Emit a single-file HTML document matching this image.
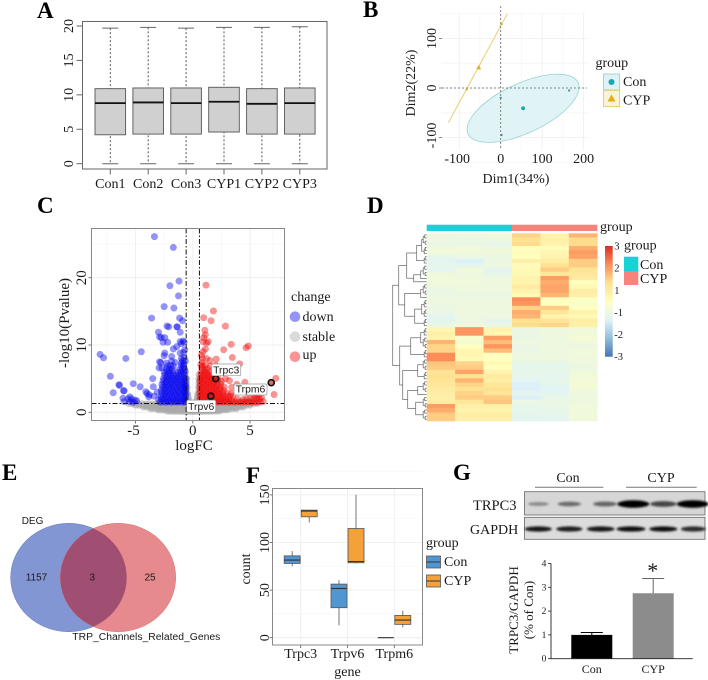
<!DOCTYPE html>
<html lang="en">
<head>
<meta charset="utf-8">
<title>Multi-panel transcriptomics figure</title>
<style>
html,body{margin:0;padding:0;background:#fff;width:708px;height:680px;overflow:hidden}
svg{display:block;filter:blur(.3px)}
text{font-family:"Liberation Serif",serif;fill:#1a1a1a}
.sans{font-family:"Liberation Sans",sans-serif}
.letter{font-weight:bold;font-size:23px;fill:#000}
</style>
</head>
<body>
<svg id="fig" xmlns="http://www.w3.org/2000/svg" width="708" height="680" viewBox="0 0 708 680">
<defs>
<filter id="blur" x="-30%" y="-100%" width="160%" height="300%"><feGaussianBlur stdDeviation="1"/></filter>
<linearGradient id="heatGrad" x1="0" y1="0" x2="0" y2="1">
<stop offset="0" stop-color="#d73027"/><stop offset="0.167" stop-color="#fc8d59"/><stop offset="0.333" stop-color="#fee090"/><stop offset="0.5" stop-color="#ffffbf"/><stop offset="0.667" stop-color="#e0f3f8"/><stop offset="0.833" stop-color="#91bfdb"/><stop offset="1" stop-color="#4575b4"/>
</linearGradient>
<clipPath id="redClip"><ellipse cx="118" cy="577.5" rx="57.7" ry="54.2"/></clipPath>
</defs>

<text class="letter" x="37" y="18">A</text>
<text class="letter" x="363" y="17">B</text>
<text class="letter" x="37" y="213">C</text>
<text class="letter" x="367" y="213">D</text>
<text class="letter" x="2" y="480">E</text>
<text class="letter" x="246" y="483">F</text>
<text class="letter" x="453" y="480">G</text>

<g id="panelA"></g>

<g id="panelB">
<text x="516" y="183" font-size="14" text-anchor="middle">Dim1(34%)</text>
<text x="0" y="0" transform="translate(415 83) rotate(-90)" font-size="14" text-anchor="middle">Dim2(22%)</text>
<text x="595.5" y="67" font-size="14">group</text>
<rect x="603.5" y="74" width="16" height="16" fill="#dff3f4" stroke="#9fd6da"/>
<circle cx="611.5" cy="82" r="3" fill="#1aa8b4"/>
<rect x="603.5" y="90.5" width="16" height="16" fill="#fbf3d6" stroke="#e8cf7c"/>
<path d="M611.5 94.5l4 7h-8z" fill="#e0ad14"/>
<text x="623" y="86" font-size="14">Con</text>
<text x="623" y="104.5" font-size="14">CYP</text>
</g>

<g id="panelC"></g>
<g id="panelCText">
<text x="194" y="450" font-size="15" text-anchor="middle">logFC</text>
<text x="0" y="0" transform="translate(69 323) rotate(-90)" font-size="15" text-anchor="middle">-log10(Pvalue)</text>
<text x="291" y="301" font-size="14">change</text>
<circle cx="295" cy="316.7" r="5.3" fill="#0000ee" fill-opacity=".42"/>
<circle cx="295" cy="336.7" r="5.3" fill="#a8a8a8" fill-opacity=".42"/>
<circle cx="295" cy="356.7" r="5.3" fill="#ee0000" fill-opacity=".42"/>
<text x="302.5" y="321" font-size="14">down</text>
<text x="302.5" y="341" font-size="14">stable</text>
<text x="302.5" y="359" font-size="14">up</text>
</g>

<g id="panelD">
<rect x="426.7" y="224.7" width="85.3" height="6.3" fill="#1bd0d8"/>
<rect x="512" y="224.7" width="85.3" height="6.3" fill="#f8837a"/>
<text x="600" y="231" font-size="14">group</text>
<rect x="605" y="246" width="7.7" height="110.7" fill="url(#heatGrad)"/>
<text x="624" y="249.5" font-size="14">group</text>
<rect x="624" y="256.7" width="14.3" height="14.3" fill="#1bd0d8"/>
<rect x="624" y="271" width="14.3" height="14" fill="#f8837a"/>
<text x="640" y="269" font-size="14">Con</text>
<text x="640" y="283" font-size="14">CYP</text>
</g>

<g id="panelE">
<ellipse cx="68.7" cy="577.5" rx="58" ry="54.2" fill="#8296d3" stroke="#7184c4" stroke-width=".6"/>
<ellipse cx="118" cy="577.5" rx="57.7" ry="54.2" fill="#e68a8d" stroke="#d87a7e" stroke-width=".6"/>
<ellipse cx="68.7" cy="577.5" rx="58" ry="54.2" fill="#a04f72" clip-path="url(#redClip)"/>
<text class="sans" x="21.7" y="524" font-size="10" fill="#333">DEG</text>
<text class="sans" x="36.5" y="580.5" font-size="10" text-anchor="middle">1157</text>
<text class="sans" x="92.3" y="580.5" font-size="10" text-anchor="middle">3</text>
<text class="sans" x="150" y="580.5" font-size="10" text-anchor="middle">25</text>
<text class="sans" x="72.3" y="640" font-size="10" textLength="148" lengthAdjust="spacingAndGlyphs">TRP_Channels_Related_Genes</text>
</g>

<g id="panelF"></g>
<g id="panelFText">
<text x="347.5" y="676" font-size="14" text-anchor="middle">gene</text>
<text x="0" y="0" transform="translate(250 569) rotate(-90)" font-size="14" text-anchor="middle">count</text>
<text x="426" y="547" font-size="14">group</text>
<rect x="426.5" y="556" width="14" height="12" fill="#4f97d2" stroke="#555" stroke-width=".8"/>
<line x1="426.5" x2="440.5" y1="562" y2="562" stroke="#333"/>
<rect x="426.5" y="575" width="14" height="12" fill="#f5a13a" stroke="#555" stroke-width=".8"/>
<line x1="426.5" x2="440.5" y1="581" y2="581" stroke="#333"/>
<text x="444" y="566" font-size="14">Con</text>
<text x="444" y="585" font-size="14">CYP</text>
</g>

<g id="panelG">
<text x="568" y="482" font-size="14" text-anchor="middle">Con</text>
<text x="661" y="482" font-size="14" text-anchor="middle">CYP</text>
<line x1="535" x2="603.3" y1="487.3" y2="487.3" stroke="#777"/>
<line x1="626" x2="696.7" y1="487.3" y2="487.3" stroke="#777"/>
<rect x="524.5" y="491.7" width="180.5" height="23.3" fill="#d6d6d6" stroke="#666" stroke-width=".8"/>
<rect x="524.5" y="517.3" width="180.5" height="22" fill="#dcdcdc" stroke="#666" stroke-width=".8"/>
<text x="473" y="510" font-size="14.5">TRPC3</text>
<text x="470" y="534" font-size="14">GAPDH</text>
<text x="0" y="0" transform="translate(518 610) rotate(-90)" font-size="13" text-anchor="middle">TRPC3/GAPDH</text>
<text x="0" y="0" transform="translate(533 610) rotate(-90)" font-size="13" text-anchor="middle">(% of Con)</text>
<text x="652.7" y="578" font-size="22" text-anchor="middle" fill="#000">*</text>
</g>
</svg>

<script>
/* ---------- Panel A data ---------- */
const sampleNames = ['Con1','Con2','Con3','CYP1','CYP2','CYP3'];
const sampleLow = [0,0,0,0,0,0];
const sampleQ1 = [4.2,4.3,4.3,4.6,4.3,4.3];
const sampleMedian = [8.8,8.9,8.8,9.0,8.7,8.8];
const sampleQ3 = [10.9,11.0,11.0,11.1,10.9,11.0];
const sampleHigh = [19.7,19.8,19.7,19.8,19.8,19.9];
const expressionTicks = [0,5,10,15,20];

/* ---------- Panel B data ---------- */
const pcaXTicks = [-100,0,100,200];
const pcaYTicks = [-100,0,100];
const pcaConPoints = [[165,-5],[0,-20],[2,-95]];
const pcaConMean = [54,-41];
const pcaConEllipseAxes = [135,55];
const pcaCypPoints = [[-82,-2],[2,130]];
const pcaCypMean = [-53,42];
const pcaCypLine = [[-126,-70],[16,150]];

/* ---------- Panel C data ---------- */
const volcanoXTicks = [-5,0,5];
const volcanoYTicks = [0,10,20];
const volcanoThresholdX = [-0.58,0.58];
const volcanoThresholdY = 1.3;
const stablePoints = [
[-2.2,.16],[-1.9,.14],[-1.6,.13],[-1.3,.12],[-1,.11],[-.7,.1],[-.4,.1],[-.1,.09],[.2,.1],[.5,.1],[.8,.11],[1.1,.12],[1.4,.13],[1.7,.14],[2,.15],[2.3,.17],
[-3,.34],[-2.7,.32],[-2.4,.3],[-2.1,.29],[-1.8,.28],[-1.5,.28],[-1.2,.27],[-.9,.27],[-.6,.26],[-.3,.26],[0,.26],[.3,.26],[.6,.26],[.9,.27],[1.2,.27],[1.5,.28],[1.8,.28],[2.1,.29],[2.4,.3],[2.7,.32],[3,.34],
[-3.7,.54],[-3.4,.52],[-3.1,.5],[-2.8,.5],[-2.5,.5],[-2.2,.48],[-1.9,.5],[-1.6,.48],[-1.3,.5],[-1,.48],[-.7,.5],[-.4,.48],[-.1,.5],[.2,.48],[.5,.5],[.8,.48],[1.1,.5],[1.4,.48],[1.7,.5],[2,.48],[2.3,.5],[2.6,.5],[2.9,.5],[3.2,.5],[3.5,.52],[3.8,.54],
[-4.3,.78],[-4,.76],[-3.7,.74],[-3.4,.74],[-3.1,.72],[-2.8,.72],[-2.5,.74],[-2.2,.72],[-1.9,.74],[-1.6,.72],[-1.3,.74],[-1,.72],[-.7,.74],[-.4,.72],[-.1,.72],[.2,.72],[.5,.74],[.8,.72],[1.1,.74],[1.4,.72],[1.7,.74],[2,.72],[2.3,.74],[2.6,.72],[2.9,.72],[3.2,.74],[3.5,.74],[3.8,.74],[4.1,.76],[4.4,.78],
[-5,1.06],[-4.7,1.04],[-4.4,1.02],[-4.1,1],[-3.8,1],[-3.5,.98],[-3.2,1],[-2.9,.98],[-2.6,1],[-2.3,.98],[-2,1],[-1.7,.98],[-1.4,1],[-1.1,.98],[-.8,1],[-.5,.98],[-.2,.98],[.2,.98],[.5,.98],[.8,1],[1.1,.98],[1.4,1],[1.7,.98],[2,1],[2.3,.98],[2.6,1],[2.9,.98],[3.2,1],[3.5,.98],[3.8,1],[4.1,1],[4.4,1.02],[4.7,1.04],[5,1.06],
[-5.6,1.3],[-5.3,1.26],[-5,1.26],[-4.7,1.24],[-4.4,1.26],[-4.1,1.24],[-3.8,1.26],[-3.5,1.24],[-3.2,1.26],[-2.9,1.24],[-2.6,1.26],[-2.3,1.24],[-2,1.26],[-1.7,1.24],[-1.4,1.26],[-1.1,1.24],[-.8,1.26],[-.5,1.28],[-.35,1.35],[.35,1.35],[.5,1.28],[.8,1.26],[1.1,1.24],[1.4,1.26],[1.7,1.24],[2,1.26],[2.3,1.24],[2.6,1.26],[2.9,1.24],[3.2,1.26],[3.5,1.24],[3.8,1.26],[4.1,1.24],[4.4,1.26],[4.7,1.24],[5,1.26],[5.3,1.26],[5.6,1.3],
[-.5,1.8],[-.45,2.3],[-.5,2.8],[-.52,3.3],[-.5,3.8],[-.53,4.4],[-.52,5],[-.4,1.7],[-.38,2.2],[-.42,2.7],[-.3,1.7],[.3,1.7],[.4,1.7],[.38,2.2],[.42,2.7],[.5,1.8],[.45,2.3],[.5,2.8],[.52,3.3],[.5,3.8],[.53,4.4],[.52,5],[.54,5.6]
];
const downPoints = [
[-3.35,26.1],[-1.7,24.5],[-1.2,19.5],[-2,18.8],[-1.25,17.3],[-2.5,15.7],[-1.65,15.5],[-3.6,14],[-1.15,14],[-.9,13.6],[-2.25,12.8],[-2.1,12.7],[-1.4,12.7],[-1.35,12.7],[-3,11.9],[-1.1,11.9],[-2.9,11.2],[-2.75,11.1],[-2.45,11.1],[-2.6,10.4],[-2.2,10.4],[-.85,10.6],[-1.1,10.5],[-1,10.2],[-.75,10.4],[-1.4,9.75],[-1.7,9.4],[-4.5,9],[-8.1,8.6],[-7.8,8.1],[-5.85,8],[-2.45,8.8],[-2.5,8.4],[-1.85,8.3],[-1.1,8.8],[-.8,8.9],[-.7,9.3],[-1,8],[-.9,7.7],[-.75,8.1],[-.65,7.6],[-2.9,7.5],[-2.8,7.4],[-1.85,7.6],[-1,7.3],[-.8,7.2],[-1.55,7.4],[-2.3,7.3],
[-7.2,5.35],[-3.5,5],[-6.4,4],[-6.45,4.1],[-6,3.2],[-6.05,3.2],[-5.2,4.25],[-4.6,3.8],[-3.45,3.8],[-4.1,3.05],[-4,2.8],[-3.8,2.6],[-3.85,2.3],[-6.95,2.9],[-6.1,2.1],[-5.5,2.3],[-5.65,2],[-5.35,2],[-5.05,1.8],[-4.9,1.7],[-6,1.6],[-5.5,1.6],[-5.2,1.5],[-3.4,2.4],[-3.1,3],[-3,1.9],
[-2.85,1.5],[-2.6,1.55],[-2.35,1.5],[-2.1,1.55],[-1.85,1.5],[-1.6,1.55],[-1.35,1.5],[-1.1,1.55],[-.85,1.5],[-.65,1.55],
[-2.75,1.95],[-2.5,1.9],[-2.25,1.95],[-2,1.9],[-1.75,1.95],[-1.5,1.9],[-1.25,1.95],[-1,1.9],[-.75,1.95],[-.62,1.9],
[-2.8,2.35],[-2.55,2.4],[-2.3,2.35],[-2.05,2.4],[-1.8,2.35],[-1.55,2.4],[-1.3,2.35],[-1.05,2.4],[-.8,2.35],[-.63,2.4],
[-2.7,2.85],[-2.45,2.8],[-2.2,2.85],[-1.95,2.8],[-1.7,2.85],[-1.45,2.8],[-1.2,2.85],[-.95,2.8],[-.72,2.85],[-.6,2.8],
[-2.75,3.25],[-2.5,3.3],[-2.25,3.25],[-2,3.3],[-1.75,3.25],[-1.5,3.3],[-1.25,3.25],[-1,3.3],[-.8,3.25],[-.63,3.3],
[-2.65,3.75],[-2.4,3.7],[-2.15,3.75],[-1.9,3.7],[-1.65,3.75],[-1.4,3.7],[-1.15,3.75],[-.9,3.7],[-.7,3.75],[-.6,3.7],
[-2.7,4.15],[-2.45,4.2],[-2.2,4.15],[-1.95,4.2],[-1.7,4.15],[-1.45,4.2],[-1.2,4.15],[-.95,4.2],[-.75,4.15],[-.62,4.2],
[-2.6,4.65],[-2.35,4.6],[-2.1,4.65],[-1.85,4.6],[-1.6,4.65],[-1.35,4.6],[-1.1,4.65],[-.85,4.6],[-.65,4.65],
[-2.55,5.05],[-2.3,5.1],[-2.05,5.05],[-1.8,5.1],[-1.55,5.05],[-1.3,5.1],[-1.05,5.05],[-.8,5.1],[-.63,5.05],
[-2.45,5.55],[-2.2,5.5],[-1.95,5.55],[-1.7,5.5],[-1.45,5.55],[-1.2,5.5],[-.95,5.55],[-.7,5.5],
[-2.5,5.95],[-2.25,6],[-2,5.95],[-1.75,6],[-1.3,5.95],[-1.05,6],[-.8,5.95],[-.65,6],
[-2.3,6.45],[-2.05,6.4],[-1.8,6.45],[-1.15,6.4],[-.9,6.45],[-.7,6.4],
[-2.2,6.9],[-1.95,6.95],[-1.7,6.9],[-1,6.95],[-.8,6.9],[-2.95,6.6],[-2.7,6.6]
];
const upPoints = [
[1.15,18.9],[1.8,15.05],[.95,14.05],[1.6,13.6],[2.85,12.8],[1.05,12.2],[1.1,11.5],[.95,11.1],[1.35,10.5],[.9,10.5],[1.2,10.3],[3.35,10.1],[4.85,9.85],[4.65,9.6],[2.7,9.3],[1.1,9.4],[.9,9],[3.45,8.15],[2.05,7.9],[1.2,8],[.85,8],[.75,8.5],[1.5,7.7],[.8,7.4],[.7,7],[4.1,7.2],[2,7],[1.1,7],[1.55,6.9],[3,6.7],[2.4,6.2],[7.25,5.05],[7.1,2.65],[4.55,4.45],[3.85,4.15],[3.2,4.7],[2.85,5],[3.4,3.7],[4.2,3.5],[4.8,3],[5.2,3.2],[4,3.2],
[.65,1.5],[.9,1.55],[1.15,1.5],[1.4,1.55],[1.65,1.5],[1.9,1.55],[2.15,1.5],[2.4,1.55],[2.65,1.5],[2.9,1.55],[3.15,1.5],[3.4,1.55],[3.65,1.5],[3.9,1.55],[4.15,1.5],[4.4,1.55],[4.65,1.5],[4.9,1.55],[5.15,1.5],[5.4,1.55],[5.65,1.5],[5.9,1.55],[6.15,1.6],
[.62,1.95],[.87,1.9],[1.12,1.95],[1.37,1.9],[1.62,1.95],[1.87,1.9],[2.12,1.95],[2.37,1.9],[2.62,1.95],[2.87,1.9],[3.12,1.95],[3.37,1.9],[3.9,1.95],[4.4,1.9],[4.7,2],[5,2.05],[5.3,2],[5.55,2.1],[5.8,2],[6,2.2],
[.65,2.4],[.9,2.35],[1.15,2.4],[1.4,2.35],[1.65,2.4],[1.9,2.35],[2.15,2.4],[2.4,2.35],[2.65,2.4],[2.9,2.35],[3.2,2.4],[3.5,2.4],[5.4,2.5],[5.75,2.5],
[.62,2.85],[.87,2.8],[1.12,2.85],[1.37,2.8],[1.62,2.85],[1.87,2.8],[2.12,2.85],[2.37,2.8],[2.62,2.85],[3,2.85],[3.35,2.8],
[.65,3.25],[.9,3.3],[1.15,3.25],[1.4,3.3],[1.65,3.25],[1.9,3.3],[2.15,3.25],[2.4,3.3],[2.7,3.25],
[.62,3.75],[.87,3.7],[1.12,3.75],[1.37,3.7],[1.62,3.75],[1.87,3.7],[2.12,3.75],[2.4,3.7],[2.75,3.75],
[.65,4.15],[.9,4.2],[1.15,4.15],[1.4,4.2],[1.65,4.15],[1.9,4.2],[2.15,4.15],[2.45,4.2],
[.62,4.65],[.87,4.6],[1.12,4.65],[1.37,4.6],[1.62,4.65],[1.87,4.6],[2.15,4.65],[2.5,4.6],
[.68,5.05],[.93,5.1],[1.18,5.05],[1.43,5.1],[1.68,5.05],[1.93,5.1],[2.2,5.05],
[.7,5.55],[.95,5.5],[1.2,5.55],[1.45,5.5],[1.7,5.55],
[.72,5.95],[.97,6],[1.22,5.95],[1.47,6],
[.8,6.45],[1.05,6.4],[1.3,6.45],[.85,6.9]
];
const highlightedGenes = [[2,5],[6.85,4.4],[1.57,2.4]];
const geneCallouts = ['Trpc3','Trpm6','Trpv6'];

/* ---------- Panel D data ---------- */
const heatRows = [
[-.6,-.6,-.5,1.2,.4,1.6],[-.6,-.7,-.6,1,.5,1.1],[-.7,-.7,-.8,1.1,.4,1.1],[-.5,-.5,-.6,0,.1,1.7],
[-.5,-.5,-.5,.1,.3,1.9],[-.8,-.7,-.7,0,.4,1.8],[-.9,-1.1,-.7,.5,.6,1.3],[-.8,-.9,-.6,.1,1,1.3],
[-.9,-.5,-.9,.2,1.3,.9],[-.6,-.6,-.8,.2,.8,.8],[-.5,-.6,-.6,.4,1.9,.7],[-.5,-.5,-.6,.4,1.7,0],
[-.6,-.6,-.6,.7,1.8,.2],[-.7,-.6,-.6,.4,1.8,.6],[-.7,-.7,-.7,.2,1.6,.5],[-.6,-.6,-.6,2.1,0,-.1],
[-.6,-.6,-.6,2,0,-.2],[-.7,-.6,-.6,1.2,1.3,0],[-.7,-.6,-.6,1.7,.8,.4],[-.9,-.6,-.6,1.6,.4,.2],
[-.9,-.7,-.9,1,.9,.6],[-.7,-.6,-.7,1.1,1.2,.5],
[.3,2,.4,-.7,-.6,-.5],[.5,2,.3,-.7,-.6,-.5],[.4,-.2,1.9,-.7,-.6,-.4],[1.6,-.4,1.5,-.6,-.6,-.5],
[1.2,0,2,-.7,-.6,-.7],[1.2,.3,1.5,-.7,-.6,-.5],[2.1,.3,0,-.6,-.6,-.5],[2.1,.2,0,-.6,-.6,-.6],
[1.4,1.2,.2,-.8,-.8,-.6],[1.3,1.3,0,-.8,-.8,-.7],[.9,1.8,.4,-.8,-.8,-.5],[1,1,.7,-.8,-.9,-.5],
[.9,1.6,.6,-1,-.8,-.4],[.8,1.2,.8,-1.1,-.9,-.4],[.7,1,1,-1.1,-1,-.5],[.6,1.2,.9,-.9,-.9,-.6],
[.5,1.3,1.3,-1.1,-.8,-.6],[.6,.8,1.4,-.7,-.7,-.6],[1.9,.5,.5,-.8,-.7,-.5],[1.7,.4,.4,-.8,-.8,-.5],
[1.3,.6,.6,-.9,-.8,-.5],[1.3,.5,.5,-.9,-.9,-.5]
];
const heatLegendTicks = [3,2,1,-1,-2,-3];
const pair = [2.5,[1.5,0,0],0];
const triple = [3.5,[2,0,0],[1.5,0,0]];
const dendrogram = [34,
  [28,
    [20,[10,[5,triple,pair],pair],[13,[6,triple,0],0]],
    [22,[6,triple,0],[12,[5,pair,pair],pair]]],
  [27,
    [16,[6,pair,triple],pair],
    [24,[9,triple,pair],[19,[9,triple,0],[11,triple,triple]]]]
];

/* ---------- Panel F data ---------- */
const geneNames = ['Trpc3','Trpv6','Trpm6'];
const countTicks = [0,50,100,150];
const conLow = [75,13,0];
const conQ1 = [78,31.5,0];
const conMedian = [81.5,51.7,0];
const conQ3 = [86,56.3,0];
const conHigh = [91,60.5,0];
const cypLow = [121,78,10.8];
const cypQ1 = [127,78.7,14];
const cypMedian = [133,80,18.5];
const cypQ3 = [134,114.7,23.4];
const cypHigh = [134,150,28.3];

/* ---------- Panel G data ---------- */
const ratioGroups = ['Con','CYP'];
const ratioValues = [1,2.75];
const ratioErrors = [0.1,0.62];
const ratioTicks = [0,1,2,3,4];
const laneCentersTrpc3 = [538.3,569.3,605,633.3,663.3,692.7];
const laneCentersGapdh = [538.3,569.3,600.7,631,663.3,693.3];
const trpc3Signal = [0.2,0.38,0.42,1,0.6,1];
const gapdhSignal = [0.85,0.8,0.88,0.95,0.9,0.72];

/* ---------- helpers ---------- */
const NS = 'http://www.w3.org/2000/svg';
function mk(tag, parent, attrs) {
  const e = document.createElementNS(NS, tag);
  for (const k in attrs) e.setAttribute(k, attrs[k]);
  parent.appendChild(e);
  return e;
}
function txt(parent, x, y, s, size, anchor) {
  const e = mk('text', parent, {x: x, y: y, 'font-size': size, 'text-anchor': anchor || 'middle'});
  e.textContent = s;
  return e;
}
function rotTxt(parent, x, y, s, size) {
  const e = mk('text', parent, {transform: 'translate(' + x + ' ' + y + ') rotate(-90)', 'font-size': size, 'text-anchor': 'middle'});
  e.textContent = s;
  return e;
}

/* ---------- Panel A ---------- */
(function () {
  const g = document.getElementById('panelA');
  const xA = i => 110.3 + 37.9 * i;
  const yA = v => 163.7 - 6.885 * v;
  const frame = mk('rect', g, {x: 82.5, y: 21.5, width: 244.5, height: 147.5, fill: 'none', stroke: '#666', 'stroke-width': 1});
  
  
  expressionTicks.forEach(t => {
    const tk = mk('line', g, {x1: 76.5, x2: 82.5, y1: yA(t), y2: yA(t), stroke: '#666'});
    
    
    const lb = rotTxt(g, 73, yA(t), String(t), 14);
    
    
  });
  sampleNames.forEach((n, i) => {
    const x = xA(i);
    const whisk = mk('path', g, {d: 'M' + x + ' ' + yA(sampleHigh[i]) + 'V' + yA(sampleLow[i]), stroke: '#555', 'stroke-dasharray': '2 2', fill: 'none'});
    
    
    const caps = mk('path', g, {d: 'M' + (x - 8) + ' ' + yA(sampleHigh[i]) + 'h16M' + (x - 8) + ' ' + yA(sampleLow[i]) + 'h16', stroke: '#666', fill: 'none'});
    
    
    const box = mk('rect', g, {x: x - 15.3, y: yA(sampleQ3[i]), width: 30.6, height: yA(sampleQ1[i]) - yA(sampleQ3[i]), fill: '#d0d0d0', stroke: '#555', 'stroke-width': .9});
    
    
    const med = mk('line', g, {x1: x - 15.3, x2: x + 15.3, y1: yA(sampleMedian[i]), y2: yA(sampleMedian[i]), stroke: '#111', 'stroke-width': 1.8});
    
    
    const tk = mk('line', g, {x1: x, x2: x, y1: 169, y2: 174.5, stroke: '#666'});
    
    
    const lb = txt(g, x, 188, n, 14);
    
    
  });
})();

/* ---------- Panel B ---------- */
(function () {
  const g = document.getElementById('panelB');
  const xB = v => 500.7 + 0.4147 * v;
  const yB = v => 88 - 0.495 * v;
  const layer = mk('g', g, {});
  
  
  pcaXTicks.forEach(t => {
    [t, t + 50].forEach(v => {
      if (xB(v) > 587) return;
      const gl = mk('line', layer, {x1: xB(v), x2: xB(v), y1: 12, y2: 150, stroke: v === t ? '#eeeeee' : '#f6f6f6', 'stroke-width': .8});
      
      
    });
    const lb = txt(g, xB(t) - (t < 0 ? 2 : 0), 163, String(t), 14);
    
    
  });
  pcaYTicks.forEach(t => {
    [t - 50, t, t + 50].forEach(v => {
      const gl = mk('line', layer, {x1: 442, x2: 587, y1: yB(v), y2: yB(v), stroke: v === t ? '#eeeeee' : '#f6f6f6', 'stroke-width': .8});
      
      
    });
    const lb = rotTxt(g, 436, yB(t) - (t < 0 ? 2 : 0), String(t), 14);
    
    
    const tk = mk('line', layer, {x1: 439, x2: 442, y1: yB(t), y2: yB(t), stroke: '#555', 'stroke-width': .7});
    
    
  });
  const cx = xB(pcaConMean[0]), cy = yB(pcaConMean[1]);
  const ell = mk('ellipse', layer, {cx: cx, cy: cy, rx: pcaConEllipseAxes[0] * 0.45, ry: pcaConEllipseAxes[1] * 0.45, fill: '#e0f3f5', stroke: '#9ad3d8', 'stroke-width': .8, transform: 'rotate(-25 ' + cx + ' ' + cy + ')'});
  
  
  const cyp = mk('line', layer, {x1: xB(pcaCypLine[0][0]), y1: yB(pcaCypLine[0][1]), x2: xB(pcaCypLine[1][0]), y2: yB(pcaCypLine[1][1]), stroke: '#ecd07c', 'stroke-width': 1.1});
  
  
  const h0 = mk('line', layer, {x1: 442, x2: 587, y1: yB(0), y2: yB(0), stroke: '#666', 'stroke-dasharray': '2 2', 'stroke-width': .8});
  
  
  const v0 = mk('line', layer, {x1: xB(0), x2: xB(0), y1: 6, y2: 150, stroke: '#666', 'stroke-dasharray': '2 2', 'stroke-width': .8});
  
  
  pcaConPoints.forEach(p => {
    const c = mk('circle', layer, {cx: xB(p[0]), cy: yB(p[1]), r: 1.1, fill: '#3f8f98'});
    
    
  });
  const m = mk('circle', layer, {cx: cx, cy: cy, r: 1.9, fill: '#1aa0ac'});
  
  
  pcaCypPoints.forEach(p => {
    const c = mk('path', layer, {d: 'M' + (xB(p[0]) - 1.4) + ' ' + (yB(p[1]) + 1.2) + 'h2.8l-1.4 -2.4z', fill: '#c9a227'});
    
    
  });
  const tri = mk('path', layer, {d: 'M' + (xB(pcaCypMean[0]) - 2.4) + ' ' + (yB(pcaCypMean[1]) + 2) + 'h4.8l-2.4 -4.2z', fill: '#e0ad14'});
  
  
})();

/* ---------- Panel C ---------- */
(function () {
  const g = document.getElementById('panelC');
  const xC = v => 192.8 + 11.45 * v;
  const yC = v => 412.3 - 6.73 * v;
  const L = 91.5, R = 284.5, T = 228.5, B = 420.5;
  [-7.5, -2.5, 2.5, 7].forEach(v => {
    const gl = mk('line', g, {x1: xC(v), x2: xC(v), y1: T, y2: B, stroke: '#f5f5f5', 'stroke-width': .7});
    
    
  });
  [5, 15, 25].forEach(v => {
    const gl = mk('line', g, {x1: L, x2: R, y1: yC(v), y2: yC(v), stroke: '#f5f5f5', 'stroke-width': .7});
    
    
  });
  volcanoXTicks.forEach(t => {
    const gl = mk('line', g, {x1: xC(t), x2: xC(t), y1: T, y2: B, stroke: '#ececec', 'stroke-width': .8});
    
    
    const tk = mk('line', g, {x1: xC(t), x2: xC(t), y1: B, y2: B + 3, stroke: '#555', 'stroke-width': .8});
    
    
    const lb = txt(g, xC(t) - (t < 0 ? 2 : 0), 435, String(t), 15);
    
    
  });
  volcanoYTicks.forEach(t => {
    const gl = mk('line', g, {x1: L, x2: R, y1: yC(t), y2: yC(t), stroke: '#ececec', 'stroke-width': .8});
    
    
    const tk = mk('line', g, {x1: L - 3, x2: L, y1: yC(t), y2: yC(t), stroke: '#555', 'stroke-width': .8});
    
    
    const lb = rotTxt(g, 86, yC(t), String(t), 15);
    
    
  });
  stablePoints.forEach(p => {
    const c = mk('circle', g, {cx: xC(p[0]), cy: yC(p[1]), r: 3.4, fill: '#aaaaaa', 'fill-opacity': .6});
    
    
  });
  downPoints.forEach(p => {
    const c = mk('circle', g, {cx: xC(p[0]), cy: yC(p[1]), r: 3.5, fill: '#0000ee', 'fill-opacity': .42});
    
    
  });
  upPoints.forEach(p => {
    const c = mk('circle', g, {cx: xC(p[0]), cy: yC(p[1]), r: 3.5, fill: '#ee0000', 'fill-opacity': .42});
    
    
  });
  volcanoThresholdX.forEach(v => {
    const l = mk('line', g, {x1: xC(v), x2: xC(v), y1: T, y2: B, stroke: '#111', 'stroke-width': 1, 'stroke-dasharray': '5 2 1.5 2'});
    
    
  });
  const th = mk('line', g, {x1: L, x2: R, y1: yC(volcanoThresholdY), y2: yC(volcanoThresholdY), stroke: '#111', 'stroke-width': 1, 'stroke-dasharray': '5 2 1.5 2'});
  
  
  highlightedGenes.forEach(p => {
    const c = mk('circle', g, {cx: xC(p[0]), cy: yC(p[1]), r: 3, fill: '#c01010', 'fill-opacity': .6, stroke: '#111', 'stroke-width': 1.7});
    
    
  });
  const boxes = [[211.7, 364, 29, 11.7], [234, 384, 33, 11], [186.7, 400.2, 29, 12]];
  geneCallouts.forEach((s, i) => {
    const b = boxes[i];
    const r = mk('rect', g, {x: b[0], y: b[1], width: b[2], height: b[3], rx: 1.5, fill: '#fff', stroke: '#999', 'stroke-width': .7});
    
    
    const t = txt(g, b[0] + b[2] / 2, b[1] + b[3] - 2.3, s, 10.4);
    t.setAttribute('class', 'sans');
    
    
  });
  const fr = mk('rect', g, {x: L, y: T, width: R - L, height: B - T, fill: 'none', stroke: '#888', 'stroke-width': 1});
  
  
})();

/* ---------- Panel D ---------- */
(function () {
  const g = document.getElementById('panelD');
  const scale = [[-3, [69, 117, 180]], [-2, [145, 191, 219]], [-1, [224, 243, 248]], [0, [255, 255, 191]], [1, [254, 224, 144]], [2, [252, 141, 89]], [3, [215, 48, 39]]];
  function color(v) {
    v = Math.max(-3, Math.min(3, v));
    for (let i = 0; i < scale.length - 1; i++) {
      if (v <= scale[i + 1][0]) {
        const f = v - scale[i][0];
        const a = scale[i][1], b = scale[i + 1][1];
        return 'rgb(' + a.map((c, k) => Math.round(c + (b[k] - c) * f)).join(',') + ')';
      }
    }
    return 'rgb(215,48,39)';
  }
  const top = 233.3, H = 187.7, left = 426.7, cw = 28.43;
  const rowH = H / heatRows.length;
  heatRows.forEach((row, r) => {
    row.forEach((v, c) => {
      const cell = mk('rect', g, {x: left + c * cw, y: top + r * rowH, width: cw + .3, height: rowH + .3, fill: color(v * 0.95)});
      
      
    });
  });
  heatLegendTicks.forEach(t => {
    const y = t > 0 ? 246 + (3 - t) * 22.2 : 312.7 + (-1 - t) * 21.8;
    const lb = txt(g, 614.3, y + 3.5, String(t), 10.5, 'start');
    
    
  });
  function countLeaves(n) { return n === 0 ? 1 : countLeaves(n[1]) + countLeaves(n[2]); }
  const total = countLeaves(dendrogram);
  const step = H / total;
  let idx = 0;
  const xOf = h => left - h;
  function walk(n) {
    if (n === 0) { const y = top + (idx + .5) * step; idx++; return y; }
    const a = walk(n[1]), b = walk(n[2]);
    const xa = n[1] === 0 ? left : xOf(n[1][0]);
    const xb = n[2] === 0 ? left : xOf(n[2][0]);
    const x = xOf(n[0]);
    const p = mk('path', g, {d: 'M' + xa + ' ' + a + 'H' + x + 'V' + b + 'H' + xb, fill: 'none', stroke: '#6e6e6e', 'stroke-width': .75});
    
    
    return (a + b) / 2;
  }
  walk(dendrogram);
})();

/* ---------- Panel F ---------- */
(function () {
  const g = document.getElementById('panelF');
  const xF = i => 300.7 + 46.8 * i;
  const yF = v => 637.7 - 0.952 * v;
  const L = 272.5, R = 422.5, T = 488.5, B = 645;
  countTicks.forEach(t => {
    const gl = mk('line', g, {x1: L, x2: R, y1: yF(t), y2: yF(t), stroke: '#ececec', 'stroke-width': .8});
    
    
    const mi = mk('line', g, {x1: L, x2: R, y1: yF(t + 25), y2: yF(t + 25), stroke: '#f6f6f6', 'stroke-width': .7});
    
    
    const tk = mk('line', g, {x1: L - 3, x2: L, y1: yF(t), y2: yF(t), stroke: '#555', 'stroke-width': .8});
    
    
    const lb = rotTxt(g, 269, yF(t), String(t), 14);
    
    
  });
  geneNames.forEach((n, i) => {
    const gl = mk('line', g, {x1: xF(i), x2: xF(i), y1: T, y2: B, stroke: '#ececec', 'stroke-width': .8});
    
    
    const tk = mk('line', g, {x1: xF(i), x2: xF(i), y1: B, y2: B + 3, stroke: '#555', 'stroke-width': .8});
    
    
    const lb = txt(g, xF(i), 658, n, 14);
    
    
    const sets = [
      [-8.5, '#4f97d2', conLow[i], conQ1[i], conMedian[i], conQ3[i], conHigh[i], 'con'],
      [8.5, '#f5a13a', cypLow[i], cypQ1[i], cypMedian[i], cypQ3[i], cypHigh[i], 'cyp']
    ];
    sets.forEach(s => {
      const x = xF(i) + s[0];
      const w = mk('line', g, {x1: x, x2: x, y1: yF(s[6]), y2: yF(s[2]), stroke: '#666', 'stroke-width': .9});
      
      
      const b = mk('rect', g, {x: x - 8, y: yF(s[5]), width: 16, height: yF(s[3]) - yF(s[5]), fill: s[1], stroke: '#555', 'stroke-width': .8});
      
      
      const m = mk('line', g, {x1: x - 8, x2: x + 8, y1: yF(s[4]), y2: yF(s[4]), stroke: '#333', 'stroke-width': 1.1});
      
      
    });
  });
  const fr = mk('rect', g, {x: L, y: T, width: R - L, height: B - T, fill: 'none', stroke: '#888', 'stroke-width': 1});
  
  
})();

/* ---------- Panel G ---------- */
(function () {
  const g = document.getElementById('panelG');
  laneCentersTrpc3.forEach((x, i) => {
    const s = trpc3Signal[i];
    const v = Math.round(170 * (1 - s));
    const b = mk('ellipse', g, {cx: x, cy: 504, rx: 9 + 7 * s, ry: 1.4 + 2.4 * s, fill: 'rgb(' + v + ',' + v + ',' + v + ')', filter: 'url(#blur)'});
    
    
  });
  laneCentersGapdh.forEach((x, i) => {
    const s = gapdhSignal[i];
    const v = Math.round(150 * (1 - s));
    const b = mk('ellipse', g, {cx: x, cy: 529, rx: 6 + 9 * s, ry: 2.6, fill: 'rgb(' + v + ',' + v + ',' + v + ')', filter: 'url(#blur)'});
    
    
  });
  const yG = v => 658.7 - 23.8 * v;
  const barLeft = [571.3, 632.7];
  const barFill = ['#000', '#8c8c8c'];
  ratioGroups.forEach((n, i) => {
    const x = barLeft[i];
    const w = x + 20.5;
    const e = mk('path', g, {d: 'M' + w + ' ' + yG(ratioValues[i]) + 'V' + yG(ratioValues[i] + ratioErrors[i]) + 'M' + (w - 11) + ' ' + yG(ratioValues[i] + ratioErrors[i]) + 'h22', stroke: i ? '#666' : '#000', 'stroke-width': 1, fill: 'none'});
    
    
    const b = mk('rect', g, {x: x, y: yG(ratioValues[i]), width: 41, height: yG(0) - yG(ratioValues[i]), fill: barFill[i]});
    
    
    const lb = txt(g, w, 673, n, 12);
    
    
  });
  const ya = mk('line', g, {x1: 551, x2: 551, y1: yG(4), y2: yG(0), stroke: '#222', 'stroke-width': .9});
  
  
  const xa = mk('line', g, {x1: 551, x2: 692.7, y1: yG(0), y2: yG(0), stroke: '#222', 'stroke-width': .9});
  
  
  ratioTicks.forEach(t => {
    const tk = mk('line', g, {x1: 548, x2: 551, y1: yG(t), y2: yG(t), stroke: '#222', 'stroke-width': .8});
    
    
    const lb = txt(g, 544, yG(t) + 3, String(t), 9.5);
    
    
  });
})();
</script>
</body>
</html>
